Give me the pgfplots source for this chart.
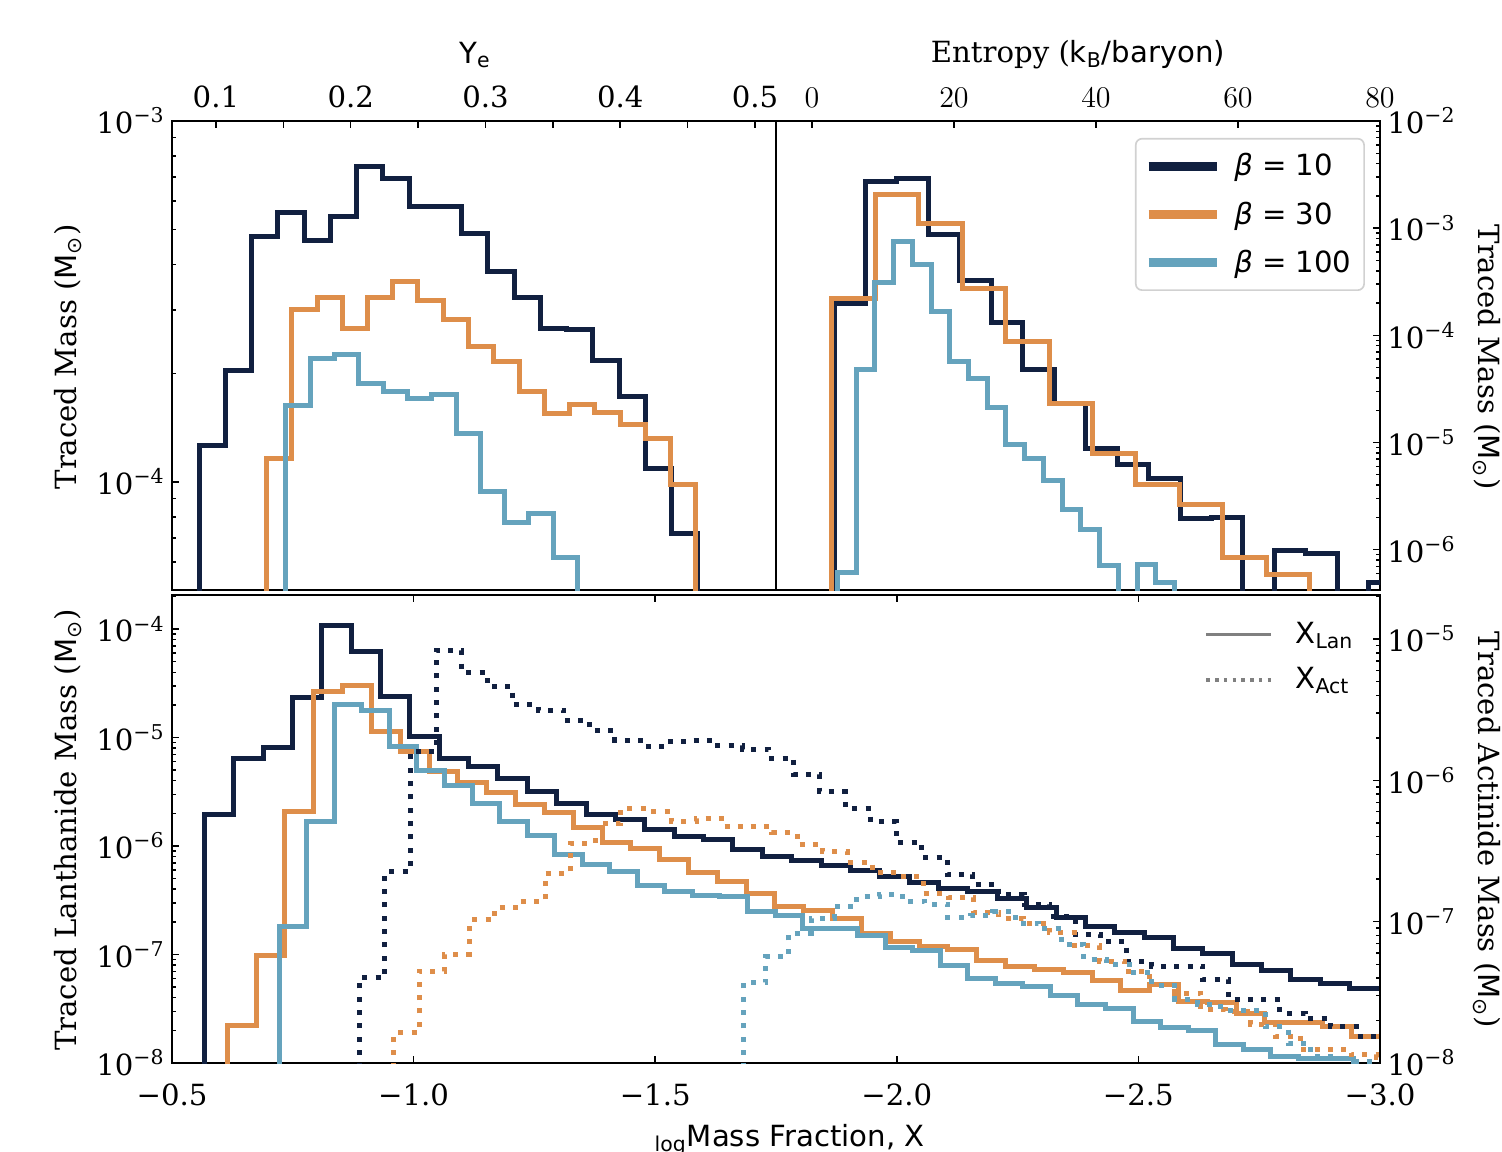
\documentclass[border=0pt]{standalone}
\usepackage{fontspec}
\setmainfont{DejaVu Serif}
\setsansfont{DejaVu Sans}
\usepackage{pgfplots}
\pgfplotsset{compat=1.18}

\definecolor{cnavy}{RGB}{17,32,64}
\definecolor{corange}{RGB}{222,142,74}
\definecolor{cblue}{RGB}{101,163,189}

\newcommand{\fs}{\fontsize{14}{16}\selectfont}
\newcommand{\msun}{{\sffamily M\textsubscript{⊙}}}
\newcommand{\ttm}[1]{10\textsuperscript{−#1}}

\pgfplotsset{
  panel/.style={
    scale only axis, tick align=inside,
    axis line style={line width=0.8pt},
    every tick/.style={black, line width=0.7pt},
    major tick length=3.5pt, minor tick length=2pt,
    tick label style={font=\fs},
  },
  hist/.style={const plot, line width=2.4pt, line join=miter, forget plot},
  act/.style={hist, dash pattern=on 2.4pt off 4pt},
}

\begin{document}
\begin{tikzpicture}
\path[use as bounding box] (0,0) rectangle (720.96pt,-552.48pt);

% ---- top left: electron fraction
\begin{axis}[ymode=log, panel, anchor=north west, at={(82.56pt,-58.08pt)}, width=289.92pt, height=225.12pt,
  xmin=0.0674, xmax=0.5156, ymin=5.02e-5, ymax=1e-3,
  xtick={0.1,0.15,0.2,0.25,0.3,0.35,0.4,0.45,0.5},
  xticklabels={0.1,{},0.2,{},0.3,{},0.4,{},0.5},
  xtick pos=right, xticklabel pos=right, xticklabel style={yshift=3pt},
  ytick={1e-4,1e-3}, yticklabels={\ttm{4},\ttm{3}},
  minor ytick={6e-5,7e-5,8e-5,9e-5,2e-4,3e-4,4e-4,5e-4,6e-4,7e-4,8e-4,9e-4},
  ytick pos=left]
\addplot[hist, cnavy] coordinates {(0.0876,1e-9)(0.0876,1.26e-4)(0.1071,2.03e-4)(0.1265,4.8e-4)(0.1460,5.58e-4)(0.1655,4.66e-4)(0.1850,5.45e-4)(0.2044,7.47e-4)(0.2239,6.93e-4)(0.2434,5.79e-4)(0.2629,5.79e-4)(0.2823,4.87e-4)(0.3018,3.83e-4)(0.3213,3.24e-4)(0.3408,2.67e-4)(0.3602,2.64e-4)(0.3797,2.17e-4)(0.3992,1.72e-4)(0.4187,1.09e-4)(0.4381,7.18e-5)(0.4576,7.18e-5)(0.4576,1e-9)};
\addplot[hist, corange] coordinates {(0.1375,1e-9)(0.1375,1.16e-4)(0.1562,3.0e-4)(0.1750,3.25e-4)(0.1937,2.67e-4)(0.2125,3.25e-4)(0.2312,3.59e-4)(0.2499,3.18e-4)(0.2687,2.82e-4)(0.2874,2.37e-4)(0.3062,2.15e-4)(0.3249,1.78e-4)(0.3436,1.55e-4)(0.3624,1.64e-4)(0.3811,1.56e-4)(0.3999,1.44e-4)(0.4186,1.32e-4)(0.4373,9.87e-5)(0.4561,9.87e-5)(0.4561,1e-9)};
\addplot[hist, cblue] coordinates {(0.1519,1e-9)(0.1519,1.63e-4)(0.1699,2.2e-4)(0.1880,2.26e-4)(0.2060,1.87e-4)(0.2241,1.78e-4)(0.2421,1.70e-4)(0.2601,1.75e-4)(0.2782,1.36e-4)(0.2962,9.4e-5)(0.3143,7.7e-5)(0.3323,8.2e-5)(0.3503,6.16e-5)(0.3684,6.16e-5)(0.3684,1e-9)};
\end{axis}

% ---- top right: entropy
\begin{axis}[ymode=log, panel, anchor=north west, at={(372.48pt,-58.08pt)}, width=289.92pt, height=225.12pt,
  xmin=-5.07, xmax=80, ymin=4.2e-7, ymax=1e-2,
  xtick={0,20,40,60,80}, xtick pos=right, xticklabel pos=right, xticklabel style={yshift=3pt},
  ytick={1e-6,1e-5,1e-4,1e-3,1e-2},
  yticklabels={\ttm{6},\ttm{5},\ttm{4},\ttm{3},\ttm{2}},
  minor ytick={5e-7,6e-7,7e-7,8e-7,9e-7,2e-6,3e-6,4e-6,5e-6,6e-6,7e-6,8e-6,9e-6,2e-5,3e-5,4e-5,5e-5,6e-5,7e-5,8e-5,9e-5,2e-4,3e-4,4e-4,5e-4,6e-4,7e-4,8e-4,9e-4,2e-3,3e-3,4e-3,5e-3,6e-3,7e-3,8e-3,9e-3},
  ytick pos=right, yticklabel pos=right,
  legend image code/.code={\draw[#1, line width=4.3pt] (0pt,0pt) -- (33pt,0pt);},
  legend style={at={(0.975,0.964)}, anchor=north east, draw=black!18, line width=0.8pt,
    rounded corners=3pt, fill=white, font=\fs\sffamily, row sep=7pt, column sep=4pt,
    inner xsep=4pt, inner ysep=5pt},
  legend cell align=left]
\addplot[hist, cnavy] coordinates {(3.10,1e-9)(3.10,1.98e-4)(7.53,2.71e-3)(11.96,2.91e-3)(16.39,8.79e-4)(20.82,3.27e-4)(25.25,1.33e-4)(29.68,4.81e-5)(34.11,2.3e-5)(38.54,8.73e-6)(42.97,6.22e-6)(47.40,4.58e-6)(51.83,1.94e-6)(56.26,2.0e-6)(60.69,1e-9)(65.12,9.8e-7)(69.55,9.25e-7)(73.98,1e-9)(78.41,4.94e-7)(82.84,4.94e-7)(82.84,1e-9)};
\addplot[hist, corange] coordinates {(2.77,1e-9)(2.77,2.2e-4)(8.89,2.07e-3)(15.01,1.11e-3)(21.13,2.73e-4)(27.25,8.67e-5)(33.38,2.33e-5)(39.50,7.94e-6)(45.62,4.05e-6)(51.74,2.62e-6)(57.86,8.47e-7)(63.98,5.83e-7)(70.10,5.83e-7)(70.10,1e-9)};
\addplot[hist, cblue] coordinates {(3.60,1e-9)(3.60,6.14e-7)(6.24,4.78e-5)(8.87,3.08e-4)(11.51,7.45e-4)(14.14,4.61e-4)(16.78,1.68e-4)(19.42,5.75e-5)(22.05,3.99e-5)(24.69,2.14e-5)(27.32,9.5e-6)(29.96,7.05e-6)(32.60,4.42e-6)(35.23,2.37e-6)(37.87,1.53e-6)(40.50,7.08e-7)(43.14,1e-9)(45.78,7.34e-7)(48.41,4.94e-7)(51.05,4.94e-7)(51.05,1e-9)};
\addlegendimage{cnavy}\addlegendentry{{\itshape β} = 10}
\addlegendimage{corange}\addlegendentry{{\itshape β} = 30}
\addlegendimage{cblue}\addlegendentry{{\itshape β} = 100}
\end{axis}

% ---- bottom: lanthanide mass fraction (left axis)
\begin{axis}[ymode=log, panel, anchor=north west, at={(82.56pt,-285.6pt)}, width=579.84pt, height=224.64pt,
  x dir=reverse, xmin=-3, xmax=-0.5, ymin=1e-8, ymax=2.06e-4,
  xtick={-3,-2.5,-2,-1.5,-1,-0.5}, xticklabels={−3.0,−2.5,−2.0,−1.5,−1.0,−0.5},
  xticklabel style={yshift=-6.5pt},
  ytick={1e-8,1e-7,1e-6,1e-5,1e-4},
  yticklabels={\ttm{8},\ttm{7},\ttm{6},\ttm{5},\ttm{4}},
  minor ytick={2e-8,3e-8,4e-8,5e-8,6e-8,7e-8,8e-8,9e-8,2e-7,3e-7,4e-7,5e-7,6e-7,7e-7,8e-7,9e-7,2e-6,3e-6,4e-6,5e-6,6e-6,7e-6,8e-6,9e-6,2e-5,3e-5,4e-5,5e-5,6e-5,7e-5,8e-5,9e-5,2e-4},
  ytick pos=left]
\addplot[hist, cnavy] coordinates {(-0.5669,1e-12)(-0.5669,1.97e-6)(-0.6277,6.43e-6)(-0.6885,8.13e-6)(-0.7492,2.34e-5)(-0.8100,1.09e-4)(-0.8708,6.18e-5)(-0.9316,2.41e-5)(-0.9924,1.03e-5)(-1.0531,6.43e-6)(-1.1139,5.38e-6)(-1.1747,4.21e-6)(-1.2355,3.16e-6)(-1.2963,2.47e-6)(-1.3570,1.97e-6)(-1.4178,1.74e-6)(-1.4786,1.43e-6)(-1.5394,1.22e-6)(-1.6002,1.15e-6)(-1.6609,9.33e-7)(-1.7217,7.97e-7)(-1.7825,7.32e-7)(-1.8433,6.68e-7)(-1.9041,6.01e-7)(-1.9648,5.29e-7)(-2.0256,4.59e-7)(-2.0864,4.07e-7)(-2.1472,3.79e-7)(-2.2080,3.3e-7)(-2.2687,2.72e-7)(-2.3295,2.2e-7)(-2.3903,1.8e-7)(-2.4511,1.59e-7)(-2.5119,1.44e-7)(-2.5726,1.14e-7)(-2.6334,1.03e-7)(-2.6942,8.17e-8)(-2.7550,7.09e-8)(-2.8158,5.9e-8)(-2.8765,5.42e-8)(-2.9373,4.87e-8)(-3.0,4.87e-8)};
\addplot[hist, corange] coordinates {(-0.6145,1e-12)(-0.6145,2.24e-8)(-0.6742,9.89e-8)(-0.7338,2.07e-6)(-0.7935,2.68e-5)(-0.8531,3.01e-5)(-0.9128,1.13e-5)(-0.9724,7.39e-6)(-1.0321,4.91e-6)(-1.0917,3.83e-6)(-1.1514,3.13e-6)(-1.2110,2.42e-6)(-1.2707,2.03e-6)(-1.3303,1.49e-6)(-1.3900,1.08e-6)(-1.4496,9.53e-7)(-1.5093,7.54e-7)(-1.5689,5.68e-7)(-1.6286,4.69e-7)(-1.6882,3.66e-7)(-1.7479,2.76e-7)(-1.8075,2.54e-7)(-1.8672,2.15e-7)(-1.9268,1.57e-7)(-1.9865,1.33e-7)(-2.0461,1.18e-7)(-2.1058,1.12e-7)(-2.1654,8.89e-8)(-2.2251,7.83e-8)(-2.2847,7.35e-8)(-2.3444,6.85e-8)(-2.4040,5.82e-8)(-2.4637,4.71e-8)(-2.5233,5.24e-8)(-2.5830,3.67e-8)(-2.6426,3.6e-8)(-2.7023,2.87e-8)(-2.7619,2.35e-8)(-2.8216,2.38e-8)(-2.8812,2.16e-8)(-2.9409,1.75e-8)(-3.0,1.75e-8)};
\addplot[hist, cblue] coordinates {(-0.7220,1e-12)(-0.7220,1.8e-7)(-0.7790,1.7e-6)(-0.8360,2.0e-5)(-0.8930,1.77e-5)(-0.9500,8.22e-6)(-1.0070,5.01e-6)(-1.0640,3.65e-6)(-1.1210,2.47e-6)(-1.1780,1.7e-6)(-1.2350,1.26e-6)(-1.2920,8.44e-7)(-1.3490,6.82e-7)(-1.4060,5.8e-7)(-1.4630,4.37e-7)(-1.5200,3.79e-7)(-1.5770,3.48e-7)(-1.6340,3.41e-7)(-1.6910,2.48e-7)(-1.7480,2.31e-7)(-1.8050,1.75e-7)(-1.8620,1.72e-7)(-1.9190,1.51e-7)(-1.9760,1.16e-7)(-2.0330,1.1e-7)(-2.0900,8.0e-8)(-2.1470,6.02e-8)(-2.2040,5.42e-8)(-2.2610,5.04e-8)(-2.3180,4.23e-8)(-2.3750,3.43e-8)(-2.4320,3.19e-8)(-2.4890,2.4e-8)(-2.5460,2.13e-8)(-2.6030,1.99e-8)(-2.6600,1.47e-8)(-2.7170,1.32e-8)(-2.7740,1.14e-8)(-2.8310,1.1e-8)(-2.8880,1.1e-8)(-2.9450,9e-9)(-3.0,9e-9)};
\end{axis}

% ---- bottom: actinide mass fraction (right axis)
\begin{axis}[ymode=log, panel, anchor=north west, at={(82.56pt,-285.6pt)}, width=579.84pt, height=224.64pt,
  x dir=reverse, xmin=-3, xmax=-0.5, ymin=1e-8, ymax=2.05e-5,
  axis x line=none, axis y line*=right,
  ytick={1e-8,1e-7,1e-6,1e-5},
  yticklabels={\ttm{8},\ttm{7},\ttm{6},\ttm{5}},
  minor ytick={2e-8,3e-8,4e-8,5e-8,6e-8,7e-8,8e-8,9e-8,2e-7,3e-7,4e-7,5e-7,6e-7,7e-7,8e-7,9e-7,2e-6,3e-6,4e-6,5e-6,6e-6,7e-6,8e-6,9e-6,2e-5},
  legend image code/.code={\draw[#1] (0pt,0pt) -- (31pt,0pt);},
  legend style={at={(0.987,0.96)}, anchor=north east, draw=none, fill=none,
    font=\fs\sffamily, row sep=6pt, column sep=9pt},
  legend cell align=left]
\addplot[act, cnavy] coordinates {(-0.8877,1e-12)(-0.8877,4.0e-8)(-0.9406,2.26e-7)(-0.9935,1.61e-6)(-1.0464,8.31e-6)(-1.0993,5.83e-6)(-1.1523,4.62e-6)(-1.2052,3.43e-6)(-1.2581,3.13e-6)(-1.3110,2.66e-6)(-1.3639,2.26e-6)(-1.4168,1.92e-6)(-1.4697,1.75e-6)(-1.5226,1.89e-6)(-1.5755,1.92e-6)(-1.6284,1.77e-6)(-1.6814,1.66e-6)(-1.7343,1.44e-6)(-1.7872,1.10e-6)(-1.8401,8.3e-7)(-1.8930,6.35e-7)(-1.9459,5.1e-7)(-1.9988,3.65e-7)(-2.0517,2.86e-7)(-2.1046,2.15e-7)(-2.1575,1.82e-7)(-2.2105,1.56e-7)(-2.2634,1.32e-7)(-2.3163,1.09e-7)(-2.3692,8.1e-8)(-2.4221,7.26e-8)(-2.4750,5.25e-8)(-2.5279,4.84e-8)(-2.5808,4.84e-8)(-2.6337,3.92e-8)(-2.6866,2.83e-8)(-2.7396,2.83e-8)(-2.7925,2.25e-8)(-2.8454,2.05e-8)(-2.8983,1.8e-8)(-2.9512,1.55e-8)(-3.0041,1.55e-8)};
\addplot[act, corange] coordinates {(-0.9594,1e-12)(-0.9594,1.64e-8)(-1.0115,4.46e-8)(-1.0637,5.9e-8)(-1.1158,1.03e-7)(-1.1680,1.26e-7)(-1.2201,1.39e-7)(-1.2722,2.2e-7)(-1.3244,3.59e-7)(-1.3765,4.92e-7)(-1.4287,6.34e-7)(-1.4808,6.07e-7)(-1.5329,5.16e-7)(-1.5851,5.38e-7)(-1.6372,4.75e-7)(-1.6894,4.7e-7)(-1.7415,4.3e-7)(-1.7936,3.53e-7)(-1.8458,3.13e-7)(-1.8979,2.64e-7)(-1.9501,2.23e-7)(-2.0022,2.09e-7)(-2.0543,1.58e-7)(-2.1065,1.49e-7)(-2.1586,1.17e-7)(-2.2108,1.06e-7)(-2.2629,9.77e-8)(-2.3150,8.41e-8)(-2.3672,6.8e-8)(-2.4193,5.25e-8)(-2.4715,4.46e-8)(-2.5236,3.59e-8)(-2.5757,3.13e-8)(-2.6279,2.39e-8)(-2.6800,2.3e-8)(-2.7322,1.87e-8)(-2.7843,1.55e-8)(-2.8364,1.25e-8)(-2.8886,1.25e-8)(-2.9407,1.14e-8)(-2.9929,1.1e-8)(-3.045,1.1e-8)};
\addplot[act, cblue] coordinates {(-1.6823,1e-12)(-1.6823,3.69e-8)(-1.7293,5.69e-8)(-1.7763,8.32e-8)(-1.8232,1.06e-7)(-1.8702,1.28e-7)(-1.9172,1.51e-7)(-1.9642,1.57e-7)(-2.0112,1.39e-7)(-2.0581,1.33e-7)(-2.1051,1.07e-7)(-2.1521,1.11e-7)(-2.1991,1.18e-7)(-2.2461,9.77e-8)(-2.2930,8.93e-8)(-2.3400,6.95e-8)(-2.3870,5.42e-8)(-2.4340,5.0e-8)(-2.4810,4.34e-8)(-2.5279,3.53e-8)(-2.5749,2.82e-8)(-2.6219,2.61e-8)(-2.6689,2.37e-8)(-2.7159,2.37e-8)(-2.7628,1.8e-8)(-2.8098,1.38e-8)(-2.8568,1.12e-8)(-2.9038,9.5e-9)(-2.9508,1.02e-8)(-3.0,1.02e-8)};
\addlegendimage{gray, line width=1.6pt}\addlegendentry{X\textsubscript{Lan}}
\addlegendimage{gray, line width=1.6pt, dash pattern=on 1.6pt off 2.6pt}\addlegendentry{X\textsubscript{Act}}
\end{axis}

% ---- axis titles
\node[font=\fs, rotate=90] at (32.64pt,-171.36pt) {Traced Mass (\msun)};
\node[font=\fs, rotate=-90] at (713.76pt,-171.36pt) {Traced Mass (\msun)};
\node[font=\fs, rotate=90] at (32.64pt,-398.4pt) {Traced Lanthanide Mass (\msun)};
\node[font=\fs, rotate=-90] at (713.76pt,-398.4pt) {Traced Actinide Mass (\msun)};
\node[font=\fs\sffamily] at (228pt,-26.4pt) {Y\textsubscript{e}};
\node[font=\fs] at (517.44pt,-26.4pt) {Entropy ({\sffamily k\textsubscript{B}/baryon)}};
\node[font=\fs\sffamily, anchor=base] at (379pt,-550.08pt) {\textsubscript{log}Mass Fraction, X};
\end{tikzpicture}
\end{document}
